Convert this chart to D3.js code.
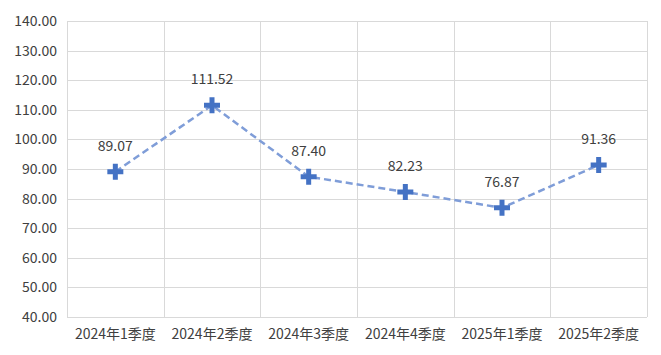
<!DOCTYPE html>
<html><head><meta charset="utf-8">
<script src="https://cdn.jsdelivr.net/npm/d3@7/dist/d3.min.js"></script>
<style>body{margin:0;background:#fff}svg{display:block}</style>
</head><body><svg id="c" width="661" height="355"></svg>
<script>
const categories = ["2024年1季度","2024年2季度","2024年3季度","2024年4季度","2025年1季度","2025年2季度"];
const values = [89.07,111.52,87.40,82.23,76.87,91.36];
const yTicks = [40,50,60,70,80,90,100,110,120,130,140];

const svg = d3.select("#c");
const m = {l:67, r:14, t:21, b:38};
const W = 661, H = 355;
const font = "'Noto Sans CJK SC','Noto Sans',sans-serif";
const x = d3.scaleBand().domain(categories).range([m.l, W - m.r]);
const y = d3.scaleLinear().domain([40,140]).range([H - m.b, m.t]);

const g = svg.append("g");
g.selectAll("line.h").data(yTicks).join("line")
  .attr("x1", m.l).attr("x2", W - m.r)
  .attr("y1", d => Math.round(y(d)) + 0.5).attr("y2", d => Math.round(y(d)) + 0.5)
  .attr("stroke", "#d9d9d9").attr("stroke-width", 1);
const edges = categories.map(c => x(c)).concat([W - m.r]);
g.selectAll("line.v").data(edges).join("line")
  .attr("x1", d => Math.round(d) + 0.5).attr("x2", d => Math.round(d) + 0.5)
  .attr("y1", m.t).attr("y2", H - m.b)
  .attr("stroke", "#d9d9d9").attr("stroke-width", 1);

g.selectAll("text.y").data(yTicks).join("text")
  .attr("x", m.l - 10).attr("y", d => y(d)).attr("dy", "0.35em")
  .attr("text-anchor", "end").attr("font-family", font).attr("font-size", 14)
  .attr("fill", "#404040").text(d => d.toFixed(2));
g.selectAll("text.x").data(categories).join("text")
  .attr("x", d => x(d) + x.bandwidth()/2).attr("y", H - m.b + 22)
  .attr("text-anchor", "middle").attr("font-family", font).attr("font-size", 14)
  .attr("fill", "#404040").text(d => d);

const cx = (d,i) => x(categories[i]) + x.bandwidth()/2;
const line = d3.line().x((d,i) => cx(d,i)).y(d => y(d));
g.append("path").datum(values).attr("d", line)
  .attr("fill", "none").attr("stroke", "#7f9dd8").attr("stroke-width", 2.5)
  .attr("stroke-dasharray", "7,4");
g.selectAll("path.mk").data(values).join("path")
  .attr("transform", (d,i) => `translate(${cx(d,i)},${y(d)})`)
  .attr("d", "M-8,-2.5 H-2.5 V-8 H2.5 V-2.5 H8 V2.5 H2.5 V8 H-2.5 V2.5 H-8 Z")
  .attr("fill", "#4472c4");
g.selectAll("text.dl").data(values).join("text")
  .attr("x", (d,i) => cx(d,i)).attr("y", d => y(d) - 21)
  .attr("text-anchor", "middle").attr("font-family", font).attr("font-size", 14)
  .attr("fill", "#404040").text(d => d.toFixed(2));
</script></body></html>
